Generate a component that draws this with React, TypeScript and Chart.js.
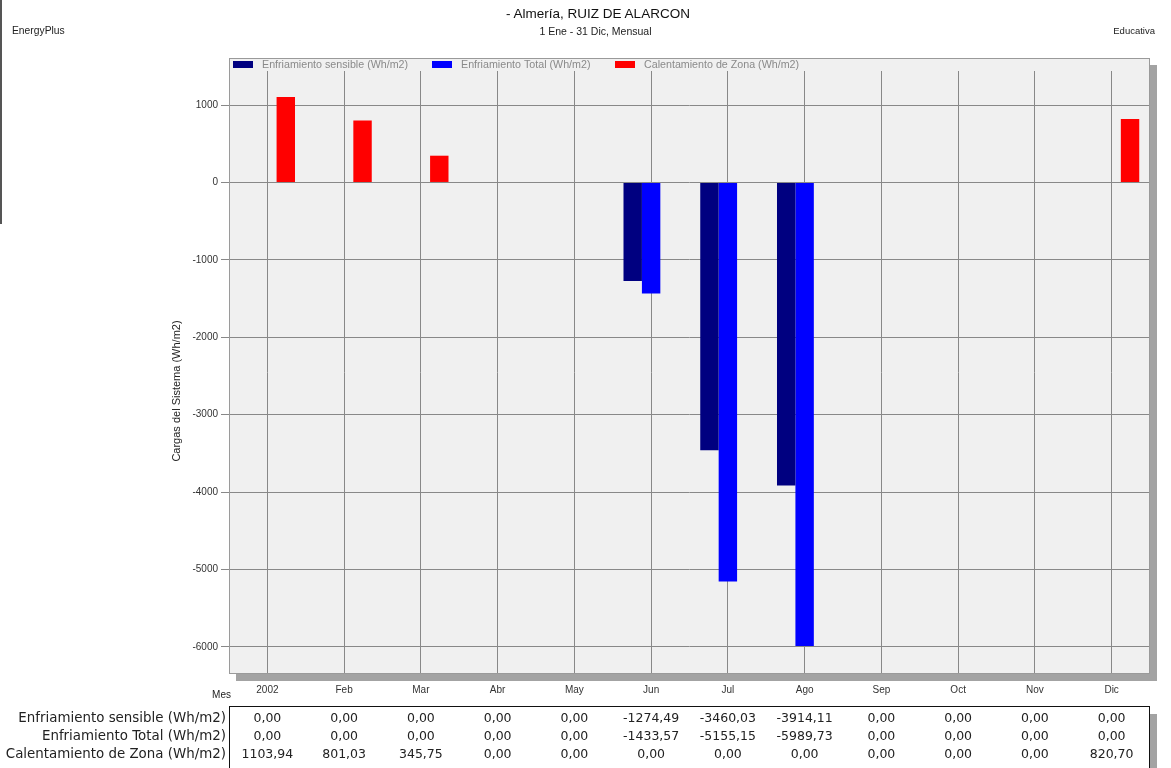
import React, { useEffect, useRef } from "react";
import { Chart, registerables } from "chart.js";

Chart.register(...registerables);

const months = ["2002", "Feb", "Mar", "Abr", "May", "Jun", "Jul", "Ago", "Sep", "Oct", "Nov", "Dic"];
const sensible = [0, 0, 0, 0, 0, -1274.49, -3460.03, -3914.11, 0, 0, 0, 0];
const total = [0, 0, 0, 0, 0, -1433.57, -5155.15, -5989.73, 0, 0, 0, 0];
const heating = [1103.94, 801.03, 345.75, 0, 0, 0, 0, 0, 0, 0, 0, 820.7];
const seriesNames = [
  "Enfriamiento sensible (Wh/m2)",
  "Enfriamiento Total (Wh/m2)",
  "Calentamiento de Zona (Wh/m2)",
];
const seriesColors = ["#000080", "#0000ff", "#ff0000"];
const yTicks = [-6000, -5000, -4000, -3000, -2000, -1000, 0, 1000];

const FONT = "'Liberation Sans', Arial, sans-serif";
const TFONT = "'DejaVu Sans', Verdana, sans-serif";
const W = 1171;
const H = 768;
const PL = 229;
const PR = 1150;
const FRAME_TOP = 58;
const AREA_TOP = 71;
const AREA_BOTTOM = 674;

const fmt = (v: number) => v.toFixed(2).replace(".", ",");

const framePlugin = {
  id: "frame",
  beforeDraw(chart: any) {
    const ctx = chart.ctx;
    const { left, right, bottom } = chart.chartArea;
    ctx.save();
    ctx.fillStyle = "#a3a3a3";
    ctx.fillRect(right, FRAME_TOP + 7, 7, bottom - FRAME_TOP);
    ctx.fillRect(left + 7, bottom, right - left, 7);
    ctx.fillStyle = "#f0f0f0";
    ctx.fillRect(left, FRAME_TOP, right - left, bottom - FRAME_TOP);
    ctx.restore();
  },
  afterDraw(chart: any) {
    const ctx = chart.ctx;
    const { left, right, bottom } = chart.chartArea;
    ctx.save();
    ctx.strokeStyle = "#9a9a9a";
    ctx.lineWidth = 1;
    ctx.strokeRect(left + 0.5, FRAME_TOP + 0.5, right - left - 1, bottom - FRAME_TOP - 1);
    // legend strip
    ctx.font = "10.7px " + FONT;
    ctx.textBaseline = "middle";
    const starts = [233, 432, 615];
    chart.data.datasets.forEach((ds: any, i: number) => {
      const x = starts[i];
      ctx.fillStyle = ds.backgroundColor;
      ctx.fillRect(x, 61, 20, 7);
      ctx.fillStyle = "#8a8a8a";
      ctx.textAlign = "left";
      ctx.fillText(ds.label, x + 29, 65);
    });
    // y axis title
    ctx.translate(177, 391);
    ctx.rotate(-Math.PI / 2);
    ctx.textAlign = "center";
    ctx.textBaseline = "middle";
    ctx.fillStyle = "#222";
    ctx.font = "11px " + FONT;
    ctx.fillText("Cargas del Sistema (Wh/m2)", 0, 0);
    ctx.restore();
    ctx.save();
    ctx.font = "10px " + FONT;
    ctx.fillStyle = "#222";
    ctx.textAlign = "right";
    ctx.textBaseline = "middle";
    ctx.fillText("Mes", 231, 695);
    ctx.restore();
  },
};

export default function App() {
  const ref = useRef<HTMLCanvasElement | null>(null);

  useEffect(() => {
    if (!ref.current) return;
    const chart = new Chart(ref.current, {
      type: "bar",
      data: {
        labels: months,
        datasets: [sensible, total, heating].map((d, i) => ({
          label: seriesNames[i],
          data: d,
          backgroundColor: seriesColors[i],
          borderWidth: 0,
          categoryPercentage: 0.72,
          barPercentage: 1,
        })),
      },
      options: {
        animation: false,
        responsive: false,
        devicePixelRatio: 1,
        layout: { padding: { left: 0, right: W - PR, top: AREA_TOP, bottom: 0 } },
        plugins: {
          legend: { display: false },
          title: { display: false },
          tooltip: { enabled: false },
        },
        scales: {
          x: {
            offset: true,
            grid: { offset: false, color: "#888", drawTicks: false, lineWidth: 1 },
            border: { display: false },
            ticks: { color: "#333", font: { family: FONT, size: 10 }, padding: 10, maxRotation: 0 },
            afterFit: (s: any) => {
              s.height = H - AREA_BOTTOM;
            },
          },
          y: {
            min: -6350,
            max: 1440,
            grid: { color: "#888", tickLength: 8, lineWidth: 1 },
            border: { display: false },
            afterBuildTicks: (s: any) => {
              s.ticks = yTicks.map((v) => ({ value: v }));
            },
            ticks: {
              color: "#333",
              font: { family: FONT, size: 10 },
              padding: 3,
              callback: (v: any) => String(v),
            },
            afterFit: (s: any) => {
              s.width = PL;
            },
          },
        },
      },
      plugins: [framePlugin],
    });
    return () => chart.destroy();
  }, []);

  const colW = (PR - PL) / months.length;
  const rows = [sensible, total, heating];

  return (
    <div style={{ position: "absolute", left: 0, top: 0, width: W, height: H, background: "#fff", overflow: "hidden", fontFamily: FONT }}>
      <canvas ref={ref} width={W} height={H} style={{ position: "absolute", left: 0, top: 0, width: W, height: H }} />
      <div style={{ position: "absolute", left: 0, top: 0, width: 2, height: 224, background: "#555" }} />
      <div style={{ position: "absolute", left: 0, width: 1196, top: 5, textAlign: "center", fontSize: 13.5, color: "#111", lineHeight: "18px" }}>
        - Almería, RUIZ DE ALARCON
      </div>
      <div style={{ position: "absolute", left: 0, width: 1191, top: 25, textAlign: "center", fontSize: 10.5, color: "#222", lineHeight: "12px" }}>
        1 Ene - 31 Dic, Mensual
      </div>
      <div style={{ position: "absolute", left: 12, top: 25, fontSize: 10.3, color: "#222", lineHeight: "12px" }}>EnergyPlus</div>
      <div style={{ position: "absolute", right: 16, top: 25, fontSize: 9.5, color: "#222", lineHeight: "12px" }}>Educativa</div>
      {/* table */}
      <div style={{ position: "absolute", left: PR, top: 714, width: 7, height: 60, background: "#a3a3a3" }} />
      <div style={{ position: "absolute", left: PL, top: 706, width: PR - PL - 2, height: 62, border: "1.5px solid #111", background: "#fff" }} />
      {rows.map((r, ri) => (
        <React.Fragment key={ri}>
          <div style={{ position: "absolute", right: W - 226, top: 710 + ri * 18, fontFamily: TFONT, fontSize: 13.4, color: "#222", lineHeight: "16px", whiteSpace: "nowrap", textAlign: "right" }}>
            {seriesNames[ri]}
          </div>
          {r.map((v, ci) => (
            <div key={ci} style={{ position: "absolute", left: PL + ci * colW, width: colW, top: 710 + ri * 18, fontFamily: TFONT, fontSize: 12.5, color: "#222", lineHeight: "16px", textAlign: "center" }}>
              {fmt(v)}
            </div>
          ))}
        </React.Fragment>
      ))}
    </div>
  );
}
